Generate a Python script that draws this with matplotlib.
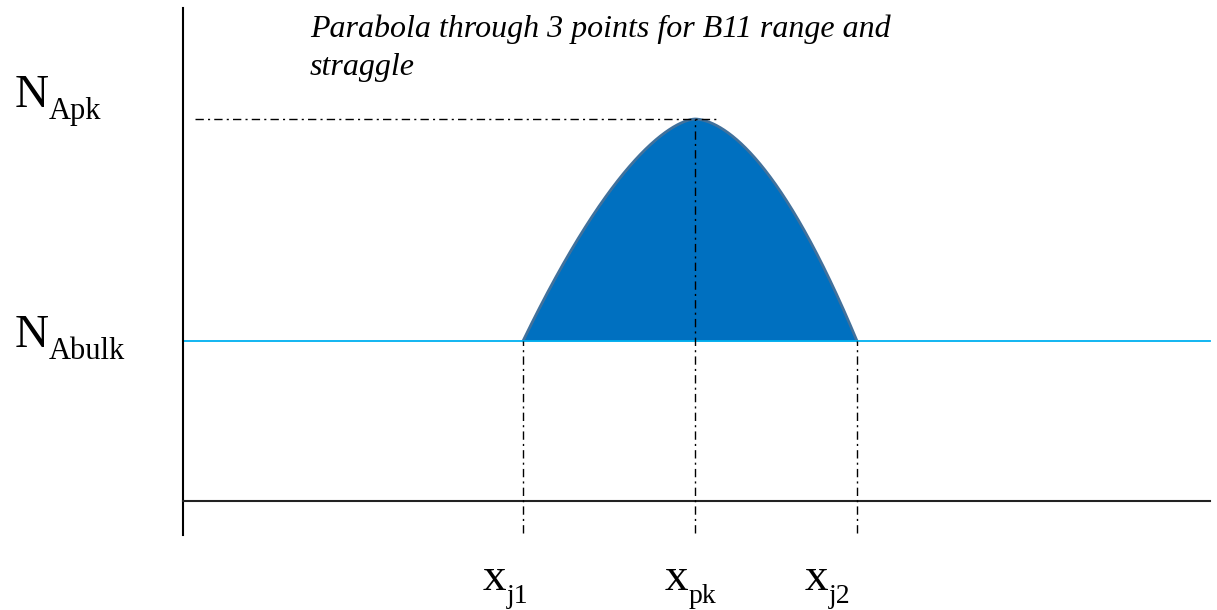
import matplotlib
matplotlib.use("Agg")
import matplotlib.pyplot as plt
import numpy as np

# ---- data (arbitrary units: depth x, concentration N) ----
x_j1 = 3.40
x_pk = 5.12
x_j2 = 6.74
N_bulk = 1.60
N_pk = 3.82
x_axis_end = 10.27
y_axis_top = 4.93
y_axis_bottom = -0.34
guide_bottom = -0.32
peak_guide_start = 0.12
peak_guide_end = 5.35

x_labels = [("x", "j1"), ("x", "pk"), ("x", "j2")]
N_labels = [("N", "Apk"), ("N", "Abulk")]
title_lines = ["Parabola through 3 points for B11 range and", "straggle"]

serif = "Liberation Serif"

fig = plt.figure(figsize=(12.17, 6.10), dpi=100)
ax = fig.add_axes([0, 0, 1, 1])
ax.set_xlim(-1.83, 10.34)
ax.set_ylim(-1.09, 5.01)
ax.axis("off")

# hump through the three points (left and right halves meet at the peak)
shape_left, shape_right = 1.6, 1.75
xl = np.linspace(x_j1, x_pk, 300)
xr = np.linspace(x_pk, x_j2, 300)
yl = N_pk - (N_pk - N_bulk) * np.abs((xl - x_pk) / (x_j1 - x_pk)) ** shape_left
yr = N_pk - (N_pk - N_bulk) * np.abs((xr - x_pk) / (x_j2 - x_pk)) ** shape_right
xs = np.concatenate([xl, xr])
ys = np.concatenate([yl, yr])
ax.fill_between(xs, N_bulk, ys, color="#0070C0", linewidth=0, zorder=2)
ax.plot(xs, ys, color="#41719C", lw=2, zorder=3, solid_capstyle="round")

# bulk line
ax.plot([0, x_axis_end], [N_bulk, N_bulk], color="#00B0F0", lw=1.3, zorder=4)

# axes
ax.plot([0, 0], [y_axis_bottom, y_axis_top], color="black", lw=1.5, zorder=5)
ax.plot([0, x_axis_end], [0, 0], color="#222222", lw=1.5, zorder=5)

# guides
dd = dict(color="black", lw=1.0, linestyle=(0, (6, 3, 1.5, 3)), zorder=6)
ax.plot([peak_guide_start, peak_guide_end], [N_pk, N_pk], **dd)
ax.plot([x_pk, x_pk], [guide_bottom, N_pk], **dd)
ax.plot([x_j1, x_j1], [guide_bottom, N_bulk], **dd)
ax.plot([x_j2, x_j2], [guide_bottom, N_bulk], **dd)

# title
ax.text(1.27, 4.64, title_lines[0], fontfamily=serif, fontstyle="italic",
        fontsize=23, va="baseline", ha="left")
ax.text(1.27, 4.26, title_lines[1], fontfamily=serif, fontstyle="italic",
        fontsize=23, va="baseline", ha="left")

fig.canvas.draw()
renderer = fig.canvas.get_renderer()
inv = ax.transData.inverted()


def label_with_sub(x0, y0, main, sub, main_size, sub_size, drop_px):
    t = ax.text(x0, y0, main, fontfamily=serif, fontsize=main_size,
                va="baseline", ha="left")
    bb = t.get_window_extent(renderer)
    bx, by = ax.transData.transform((x0, y0))
    sx, sy = inv.transform((bb.x1, by - drop_px))
    ax.text(sx, sy, sub, fontfamily=serif, fontsize=sub_size,
            va="baseline", ha="left")


# N labels (left edge, baseline)
N_pos = [(-1.68, 3.94), (-1.68, 1.54)]
for (main, sub), (px, py) in zip(N_labels, N_pos):
    label_with_sub(px, py, main, sub, 34, 22, 12)

# x labels
x_pos = [3.00, 4.82, 6.22]
for (main, sub), px in zip(x_labels, x_pos):
    label_with_sub(px, -0.89, main, sub, 34, 20, 13)

fig.savefig("out.png", dpi=100, facecolor="white")
